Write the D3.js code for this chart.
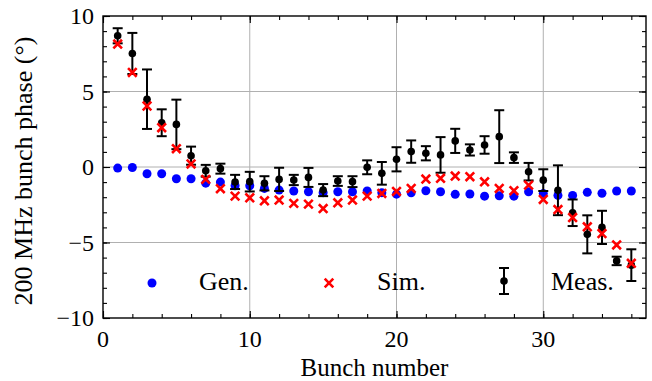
<!DOCTYPE html>
<html>
<head>
<meta charset="utf-8">
<script src="https://cdn.jsdelivr.net/npm/d3@7"></script>
<style>
    body { margin: 0; background: #fff; }
    text { font-family: "Liberation Serif", "DejaVu Serif", serif; fill: #000; }
</style>
</head>
<body>
<script>
const bunch = [1, 2, 3, 4, 5, 6, 7, 8, 9, 10, 11, 12, 13, 14, 15, 16, 17, 18,
    19, 20, 21, 22, 23, 24, 25, 26, 27, 28, 29, 30, 31, 32, 33, 34, 35, 36]
const gen = [-0.07, -0.03, -0.45, -0.45, -0.78, -0.78, -1.07, -1.0, -1.24, -1.24, -1.42, -1.53,
    -1.59, -1.64, -1.70, -1.64, -1.64, -1.59, -1.70, -1.80, -1.71, -1.57, -1.64, -1.81,
    -1.79, -1.93, -1.91, -1.93, -1.64, -1.76, -1.88, -1.88, -1.68, -1.74, -1.59, -1.59]
const sim = [8.14, 6.26, 4.04, 2.6, 1.21, 0.2, -0.82, -1.44, -1.93, -2.04, -2.24, -2.19,
    -2.41, -2.46, -2.75, -2.37, -2.19, -1.93, -1.75, -1.62, -1.42, -0.80, -0.75, -0.60,
    -0.64, -0.98, -1.42, -1.57, -1.20, -2.15, -2.82, -3.35, -3.96, -4.41, -5.16, -6.38]
const meas = [8.69, 7.52, 4.49, 2.93, 2.82, 0.75, -0.25, -0.11, -0.99, -0.97, -1.08, -0.82,
    -0.86, -0.69, -1.53, -0.93, -0.97, -0.02, -0.42, 0.51, 1.02, 0.91, 0.80, 1.73,
    1.13, 1.46, 2.01, 0.62, -0.31, -0.87, -1.54, -3.03, -4.46, -4.0, -6.22, -6.5]
const measErr = [0.5, 1.36, 1.97, 0.89, 1.64, 0.6, 0.39, 0.33, 0.47, 0.65, 0.47, 0.77,
    0.34, 0.63, 0.4, 0.32, 0.36, 0.46, 0.75, 0.8, 0.74, 0.47, 1.18, 0.8,
    0.37, 0.58, 1.75, 0.35, 0.58, 0.72, 1.65, 0.88, 1.26, 1.1, 0.28, 1.05]
const xTicks = [0, 10, 20, 30]
const yTicks = [-10, -5, 0, 5, 10]
const legendLabels = ["Gen.", "Sim.", "Meas."]

const width = 652
const height = 381
const margin = { left: 103, right: 6, top: 16, bottom: 63 }
const w = width - margin.left - margin.right
const h = height - margin.top - margin.bottom

const svg = d3.select("body")
    .append("svg")
    .attr("width", width)
    .attr("height", height)

const x = d3.scaleLinear()
    .domain([0, 37])
    .range([0, w])
const y = d3.scaleLinear()
    .domain([-10, 10])
    .range([h, 0])

const chart = svg.append("g")
    .attr("transform", `translate(${margin.left},${margin.top})`)

// grid
chart.append("g")
    .selectAll("line.gx")
    .data(xTicks.slice(1))
    .join("line")
    .attr("x1", d => x(d)).attr("x2", d => x(d))
    .attr("y1", 0).attr("y2", h)
    .attr("stroke", "#b0b0b0").attr("stroke-width", 1)
chart.append("g")
    .selectAll("line.gy")
    .data(yTicks.slice(1, -1))
    .join("line")
    .attr("x1", 0).attr("x2", w)
    .attr("y1", d => y(d)).attr("y2", d => y(d))
    .attr("stroke", "#b0b0b0").attr("stroke-width", 1)

const rows = bunch.map((b, i) => ({ b, gen: gen[i], sim: sim[i], meas: meas[i], err: measErr[i] }))

// Gen.
chart.append("g")
    .selectAll("circle")
    .data(rows)
    .join("circle")
    .attr("cx", d => x(d.b))
    .attr("cy", d => y(d.gen))
    .attr("r", 4.5)
    .attr("fill", "#0000ff")

// Meas.
const eb = chart.append("g")
    .attr("stroke", "#000")
    .attr("stroke-width", 2)
eb.selectAll("line.bar")
    .data(rows)
    .join("line")
    .attr("x1", d => x(d.b)).attr("x2", d => x(d.b))
    .attr("y1", d => y(d.meas - d.err)).attr("y2", d => y(d.meas + d.err))
eb.selectAll("line.capt")
    .data(rows)
    .join("line")
    .attr("x1", d => x(d.b) - 5).attr("x2", d => x(d.b) + 5)
    .attr("y1", d => y(d.meas + d.err)).attr("y2", d => y(d.meas + d.err))
eb.selectAll("line.capb")
    .data(rows)
    .join("line")
    .attr("x1", d => x(d.b) - 5).attr("x2", d => x(d.b) + 5)
    .attr("y1", d => y(d.meas - d.err)).attr("y2", d => y(d.meas - d.err))
chart.append("g")
    .selectAll("circle")
    .data(rows)
    .join("circle")
    .attr("cx", d => x(d.b))
    .attr("cy", d => y(d.meas))
    .attr("r", 3.8)
    .attr("fill", "#000")

// Sim.
const cross = (cx, cy, s) => `M${cx - s},${cy - s}L${cx + s},${cy + s}M${cx - s},${cy + s}L${cx + s},${cy - s}`
chart.append("g")
    .selectAll("path")
    .data(rows)
    .join("path")
    .attr("d", d => cross(x(d.b), y(d.sim), 4.3))
    .attr("stroke", "#ff0000")
    .attr("stroke-width", 2.6)
    .attr("fill", "none")

// axes, ticks inward on all four sides
const tickIn = (axis, minor) => axis.tickSizeInner(minor ? 4 : 7).tickSizeOuter(0).tickFormat("")
const styleAxis = g => {
    g.select(".domain").remove()
    g.selectAll("line").attr("stroke", "#000").attr("stroke-width", 1.1)
}
const xMinor = d3.range(0, 37, 2)
const yMinor = d3.range(-10, 11, 1)

chart.append("g").attr("transform", `translate(0,${h})`)
    .call(tickIn(d3.axisTop(x).tickValues(xMinor), true)).call(styleAxis)
chart.append("g").attr("transform", `translate(0,${h})`)
    .call(tickIn(d3.axisTop(x).tickValues(xTicks), false)).call(styleAxis)
chart.append("g")
    .call(tickIn(d3.axisBottom(x).tickValues(xMinor), true)).call(styleAxis)
chart.append("g")
    .call(tickIn(d3.axisBottom(x).tickValues(xTicks), false)).call(styleAxis)
chart.append("g")
    .call(tickIn(d3.axisRight(y).tickValues(yMinor), true)).call(styleAxis)
chart.append("g")
    .call(tickIn(d3.axisRight(y).tickValues(yTicks), false)).call(styleAxis)
chart.append("g").attr("transform", `translate(${w},0)`)
    .call(tickIn(d3.axisLeft(y).tickValues(yMinor), true)).call(styleAxis)
chart.append("g").attr("transform", `translate(${w},0)`)
    .call(tickIn(d3.axisLeft(y).tickValues(yTicks), false)).call(styleAxis)

chart.append("rect")
    .attr("width", w).attr("height", h)
    .attr("fill", "none")
    .attr("stroke", "#000")
    .attr("stroke-width", 1.4)

// tick labels
const fmt = d => d < 0 ? "\u2212" + Math.abs(d) : String(d)
chart.append("g")
    .selectAll("text")
    .data(xTicks)
    .join("text")
    .attr("x", d => x(d))
    .attr("y", h + 29)
    .attr("text-anchor", "middle")
    .attr("font-size", 24)
    .text(fmt)
chart.append("g")
    .selectAll("text")
    .data(yTicks)
    .join("text")
    .attr("x", -9)
    .attr("y", d => y(d) + 8)
    .attr("text-anchor", "end")
    .attr("font-size", 24)
    .text(fmt)

// axis labels
svg.append("text")
    .attr("x", margin.left + w / 2)
    .attr("y", 376)
    .attr("text-anchor", "middle")
    .attr("font-size", 25)
    .text("Bunch number")
svg.append("text")
    .attr("transform", `translate(32,${margin.top + h / 2 + 4}) rotate(-90)`)
    .attr("text-anchor", "middle")
    .attr("font-size", 26)
    .text("200 MHz bunch phase (°)")

// legend
const leg = svg.append("g")
leg.append("circle")
    .attr("cx", 152).attr("cy", 283).attr("r", 4.5).attr("fill", "#0000ff")
leg.append("path")
    .attr("d", cross(329, 283, 4.3))
    .attr("stroke", "#ff0000").attr("stroke-width", 2.6).attr("fill", "none")
const lm = leg.append("g").attr("stroke", "#000").attr("stroke-width", 2)
lm.append("line").attr("x1", 504).attr("x2", 504).attr("y1", 268).attr("y2", 294)
lm.append("line").attr("x1", 499).attr("x2", 509).attr("y1", 268).attr("y2", 268)
lm.append("line").attr("x1", 499).attr("x2", 509).attr("y1", 294).attr("y2", 294)
leg.append("circle").attr("cx", 504).attr("cy", 281).attr("r", 3.8).attr("fill", "#000")
leg.selectAll("text.lab")
    .data(legendLabels)
    .join("text")
    .attr("x", (d, i) => [199, 377, 551][i])
    .attr("y", 290)
    .attr("font-size", 26)
    .text(d => d)
</script>
</body>
</html>
